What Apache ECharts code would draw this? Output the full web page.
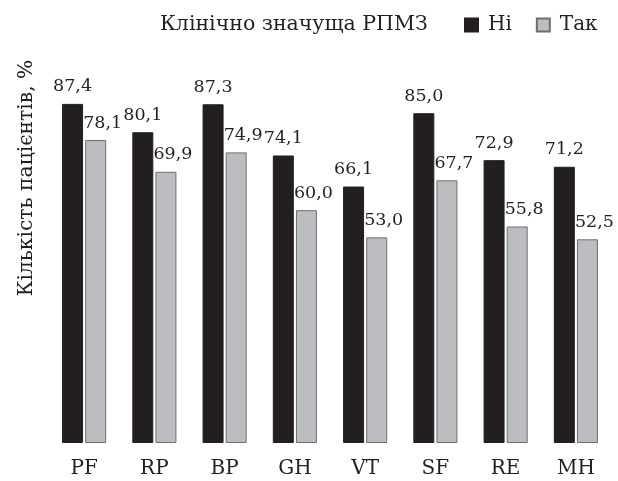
<!DOCTYPE html>
<html>
<head>
<meta charset="utf-8">
<script src="https://cdn.jsdelivr.net/npm/echarts@6/dist/echarts.min.js"></script>
<style>
  html, body { margin: 0; padding: 0; background: #fff; }
  #chart { width: 618px; height: 481px; }
</style>
</head>
<body>
<div id="chart"></div>
<script>
// SF-36 domains
const categories = ['PF', 'RP', 'BP', 'GH', 'VT', 'SF', 'RE', 'MH'];
// Share of patients without clinically significant disorder
const valuesNo = [87.4, 80.1, 87.3, 74.1, 66.1, 85.0, 72.9, 71.2];
// Share of patients with clinically significant disorder
const valuesYes = [78.1, 69.9, 74.9, 60.0, 53.0, 67.7, 55.8, 52.5];

const FONT = 'DejaVu Serif';
const INK = '#231f20';
const fmt = p => p.value.toFixed(1).replace('.', ',');

const chart = echarts.init(document.getElementById('chart'));
chart.setOption({
  animation: false,
  backgroundColor: '#ffffff',
  textStyle: { fontFamily: FONT, color: INK },
  grid: { left: 49, right: 7, top: 55, bottom: 38 },
  graphic: [
    {
      type: 'text',
      x: 160, y: 24.5,
      style: {
        text: 'Клінічно значуща РПМЗ',
        font: '20.5px "DejaVu Serif"',
        fill: INK,
        verticalAlign: 'middle'
      }
    },
    {
      type: 'text',
      x: 37, y: 178,
      rotation: Math.PI / 2,
      style: {
        text: 'Кількість пацієнтів, %',
        font: '20.3px "DejaVu Serif"',
        fill: INK,
        align: 'center',
        verticalAlign: 'bottom'
      }
    }
  ],
  legend: {
    left: 464, top: 15,
    padding: 0,
    icon: 'rect',
    itemWidth: 13, itemHeight: 13,
    itemGap: 24,
    textStyle: { fontFamily: FONT, fontSize: 20, color: INK, padding: [0, 0, 0, 5] },
    data: ['Ні', 'Так']
  },
  xAxis: {
    type: 'category',
    data: categories,
    axisLine: { show: false },
    axisTick: { show: false },
    axisLabel: { fontFamily: FONT, fontSize: 20, color: INK, margin: 16 }
  },
  yAxis: {
    type: 'value',
    min: 0, max: 100,
    show: false
  },
  series: [
    {
      name: 'Ні',
      type: 'bar',
      data: valuesNo,
      barWidth: 21,
      barGap: '10%',
      itemStyle: { color: INK, borderColor: INK, borderWidth: 1 },
      label: {
        show: true, position: 'top', distance: 8,
        fontFamily: FONT, fontSize: 17.5, color: INK,
        formatter: fmt
      }
    },
    {
      name: 'Так',
      type: 'bar',
      data: valuesYes,
      barWidth: 21,
      itemStyle: { color: '#bcbdc0', borderColor: '#6d6e71', borderWidth: 1 },
      label: {
        show: true, position: 'top', distance: 8, offset: [7, 0],
        fontFamily: FONT, fontSize: 17.5, color: INK,
        formatter: fmt
      }
    }
  ]
});
</script>
</body>
</html>
